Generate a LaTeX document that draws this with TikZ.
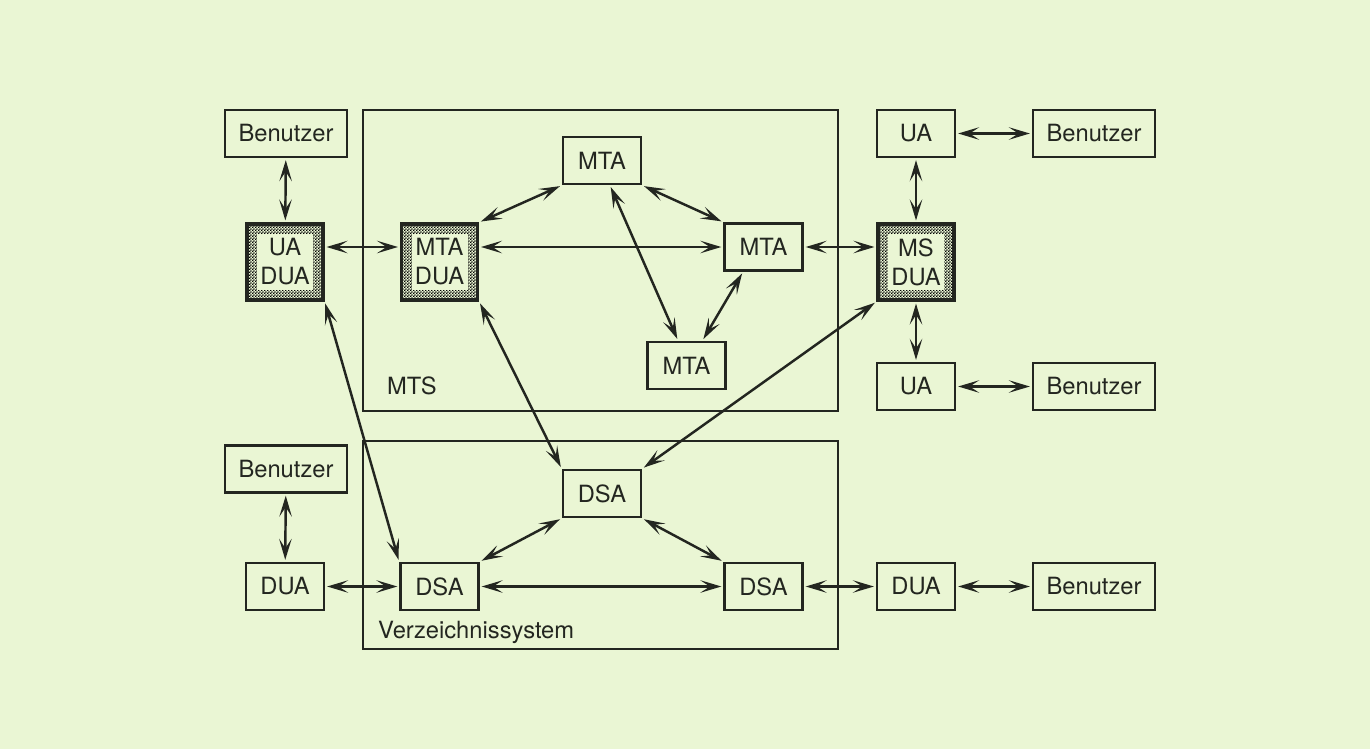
\documentclass[tikz,border=0pt]{standalone}
\usepackage{fontspec}
\setmainfont{TeX Gyre Heros}
\usetikzlibrary{arrows.meta,patterns}

\definecolor{paper}{RGB}{234,246,212}
\definecolor{ink}{RGB}{35,38,32}

% fine checker for the shaded agents
\pgfdeclarepatternformonly{checker}{\pgfpointorigin}{\pgfqpoint{1.8pt}{1.8pt}}{\pgfqpoint{1.8pt}{1.8pt}}{%
    \pgfpathrectangle{\pgfpointorigin}{\pgfqpoint{0.9pt}{0.9pt}}%
    \pgfpathrectangle{\pgfqpoint{0.9pt}{0.9pt}}{\pgfqpoint{0.9pt}{0.9pt}}%
    \pgfusepath{fill}}

\tikzset{
    agent/.style={draw=ink, line width=1.6pt, fill=paper, rectangle, inner sep=0pt,
        minimum width=1.56cm, minimum height=0.94cm, text=ink,
        font=\fontsize{13.5}{16.5}\selectfont},
    user/.style={agent, minimum width=2.44cm},
    dualagent/.style={agent, line width=2pt, minimum width=1.52cm, minimum height=1.52cm,
        align=center, pattern=checker, pattern color=black,
        path picture={\fill[paper] ([shift={(0.2cm,-0.2cm)}]path picture bounding box.north west)
            rectangle ([shift={(-0.2cm,0.2cm)}]path picture bounding box.south east);}},
    tip/.tip={Stealth[length=4.2mm,width=2.5mm,inset=1.9mm]},
    link/.style={draw=ink, line width=1.4pt, tip-tip, shorten <=1pt, shorten >=1pt},
    system/.style={draw=ink, line width=1.4pt},
}

\begin{document}
\begin{tikzpicture}
    % Paper
    \fill[paper] (0,0) rectangle (27.4,-14.98);

    % Draw the MTS and the Verzeichnissystem
    \draw[system] (7.26,-2.20) rectangle (16.76,-8.22);
    \node[anchor=west, text=ink, font=\fontsize{13.5}{16.5}\selectfont] (mtslabel) at (7.62,-7.72) {MTS};
    \draw[system] (7.26,-8.82) rectangle (16.76,-12.98);
    \node[anchor=west, text=ink, font=\fontsize{13.5}{16.5}\selectfont] (vslabel) at (7.44,-12.64) {Verzeichnissystem};

    % Left side
    \node[user] (benA) at (5.72,-2.67) {Benutzer};
    \node[dualagent] (uadua) at (5.70,-5.24) {UA\\DUA};
    \node[user] (benD) at (5.72,-9.38) {Benutzer};
    \node[agent] (duaL) at (5.70,-11.73) {DUA};

    % MTAs
    \node[dualagent] (mtadua) at (8.79,-5.24) {MTA\\DUA};
    \node[agent] (mtaT) at (12.04,-3.21) {MTA};
    \node[agent] (mtaR) at (15.27,-4.94) {MTA};
    \node[agent] (mtaB) at (13.73,-7.31) {MTA};

    % DSAs
    \node[agent] (dsaL) at (8.79,-11.73) {DSA};
    \node[agent] (dsaT) at (12.04,-9.87) {DSA};
    \node[agent] (dsaR) at (15.27,-11.73) {DSA};

    % Right side
    \node[agent] (uaT) at (18.32,-2.67) {UA};
    \node[user] (benB) at (21.88,-2.67) {Benutzer};
    \node[dualagent] (msdua) at (18.32,-5.24) {MS\\DUA};
    \node[agent] (uaB) at (18.32,-7.73) {UA};
    \node[user] (benC) at (21.88,-7.73) {Benutzer};
    \node[agent] (duaR) at (18.32,-11.73) {DUA};
    \node[user] (benE) at (21.88,-11.73) {Benutzer};

    % Links around the MTS
    \draw[link] (benA) -- (uadua);
    \draw[link] (uadua.east |- mtaR.west) -- (mtadua.west |- mtaR.west);
    \draw[link] (mtadua.east |- mtaR.west) -- (mtaR.west);
    \draw[link] (mtadua.north east) -- (mtaT.south west);
    \draw[link] (mtaT.south east) -- (mtaR.north west);
    \draw[link] ([xshift=0.16cm]mtaT.south) -- ([xshift=-0.17cm]mtaB.north);
    \draw[link] ([xshift=-0.41cm]mtaR.south) -- ([xshift=0.32cm]mtaB.north);
    \draw[link] (mtaR.east) -- (msdua.west |- mtaR.east);
    \draw[link] (uaT) -- (msdua);
    \draw[link] (uaT) -- (benB);
    \draw[link] (msdua) -- (uaB);
    \draw[link] (uaB) -- (benC);

    % Links to the DSAs
    \draw[link] (uadua.south east) -- (dsaL.north west);
    \draw[link] (mtadua.south east) -- (dsaT.north west);
    \draw[link] (msdua.south west) -- (dsaT.north east);

    % Links in the Verzeichnissystem
    \draw[link] (benD) -- (duaL);
    \draw[link] (duaL) -- (dsaL);
    \draw[link] (dsaL.north east) -- (dsaT.south west);
    \draw[link] (dsaT.south east) -- (dsaR.north west);
    \draw[link] (dsaL) -- (dsaR);
    \draw[link] (dsaR) -- (duaR);
    \draw[link] (duaR) -- (benE);
\end{tikzpicture}
\end{document}
